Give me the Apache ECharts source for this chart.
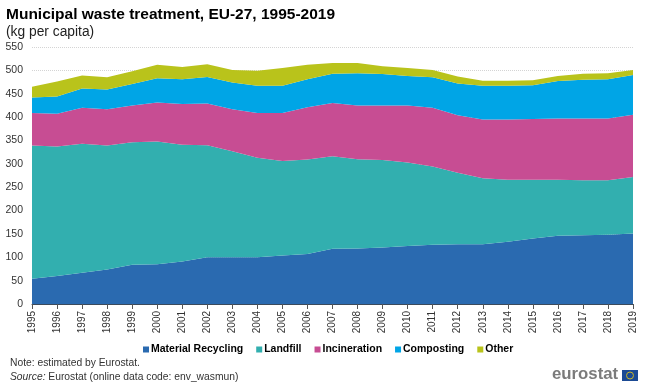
<!DOCTYPE html>
<html>
<head>
<meta charset="utf-8">
<style>
  html, body { margin: 0; padding: 0; background: #fff; }
  #chart { width: 650px; height: 387px; }
</style>
<script src="https://cdn.jsdelivr.net/npm/echarts@6/dist/echarts.min.js"></script>
</head>
<body>
<div id="chart"></div>
<script>
const years = ['1995', '1996', '1997', '1998', '1999', '2000', '2001', '2002', '2003', '2004', '2005', '2006', '2007',
  '2008', '2009', '2010', '2011', '2012', '2013', '2014', '2015', '2016', '2017', '2018', '2019']
const recycling = [54, 60, 67, 74, 84, 85, 91, 100, 100, 100, 104, 107, 118, 119, 121, 124, 127, 128, 128, 133, 140, 146, 147, 148, 151]
const landfill = [285, 277, 276, 265, 262, 263, 250, 240, 227, 213, 202, 202, 198, 191, 187, 179, 167, 153, 141, 133, 126, 120, 118, 117, 121]
const incineration = [70, 70, 77, 78, 79, 83, 87, 89, 90, 96, 103, 112, 114, 115, 117, 122, 126, 123, 126, 129, 130, 131, 132, 132, 133]
const composting = [33, 37, 41, 42, 46, 52, 53, 57, 57, 58, 58, 60, 63, 69, 67, 63, 65, 68, 72, 72, 72, 80, 83, 84, 85]
const other = [23, 32, 28, 26, 27, 29, 26, 27, 27, 32, 38, 31, 23, 22, 17, 17, 16, 15, 11, 11, 11, 11, 13, 13, 11]

const font = '"Liberation Sans", Arial, sans-serif'

function areaSeries (name, color, data) {
  return {
    name: name,
    type: 'line',
    stack: 'total',
    symbol: 'none',
    lineStyle: { width: 0 },
    areaStyle: { color: color, opacity: 1 },
    itemStyle: { color: color },
    data: data
  }
}

const myChart = echarts.init(document.getElementById('chart'))
myChart.setOption({
  animation: false,
  textStyle: { fontFamily: font },
  title: [
    { text: 'Municipal waste treatment, EU-27, 1995-2019', left: 1, top: 2, textStyle: { fontFamily: font, fontSize: 15.5, fontWeight: 'bold', color: '#000' } },
    { text: '(kg per capita)', left: 1, top: 20, textStyle: { fontFamily: font, fontSize: 13.8, fontWeight: 'normal', color: '#222' } }
  ],
  grid: { left: 32, right: 17, top: 47, bottom: 83 },
  legend: {
    bottom: 27,
    left: 138,
    itemWidth: 6,
    itemHeight: 6,
    itemGap: 13,
    icon: 'rect',
    textStyle: { fontFamily: font, fontSize: 10.5, fontWeight: 'bold', color: '#000', padding: [0, 0, 0, -3] }
  },
  xAxis: {
    type: 'category',
    boundaryGap: false,
    data: years,
    axisLine: { lineStyle: { color: '#3b4a5c', width: 1 } },
    axisTick: { length: 5, lineStyle: { color: '#555' }, interval: 0 },
    axisLabel: { rotate: 90, interval: 0, fontSize: 10, color: '#333', margin: 7, fontFamily: font }
  },
  yAxis: {
    type: 'value',
    min: 0,
    max: 550,
    interval: 50,
    axisLine: { show: false },
    axisTick: { show: false },
    axisLabel: { fontSize: 10.5, color: '#333', margin: 9, fontFamily: font },
    splitLine: { lineStyle: { color: '#d4d4d4', type: 'dotted', width: 1 } }
  },
  series: [
    areaSeries('Material Recycling', '#2a6ab0', recycling),
    areaSeries('Landfill', '#32afaf', landfill),
    areaSeries('Incineration', '#c74d93', incineration),
    areaSeries('Composting', '#00a5e6', composting),
    areaSeries('Other', '#b9c31b', other)
  ],
  graphic: [
    { type: 'text', left: 10, top: 358, style: { text: 'Note: estimated by Eurostat.', fontFamily: font, fontSize: 10.3, fill: '#333' } },
    { type: 'text', left: 10, top: 372, style: { text: '{i|Source:} Eurostat (online data code: env_wasmun)', fontFamily: font, fontSize: 10.3, fill: '#333', rich: { i: { fontStyle: 'italic', fontFamily: font, fontSize: 10.3, fill: '#333' } } } },
    { type: 'text', left: 552, top: 366, style: { text: 'eurostat', fontFamily: font, fontSize: 16.8, fontWeight: 'bold', fill: '#7b7b7b' } },
    { type: 'rect', shape: { x: 622, y: 370, width: 16, height: 11 }, style: { fill: '#1c4a94' } },
    { type: 'circle', shape: { cx: 630, cy: 375.5, r: 3.5 }, style: { fill: 'none', stroke: '#c9b52a', lineWidth: 1 } }
  ]
})
</script>
</body>
</html>
